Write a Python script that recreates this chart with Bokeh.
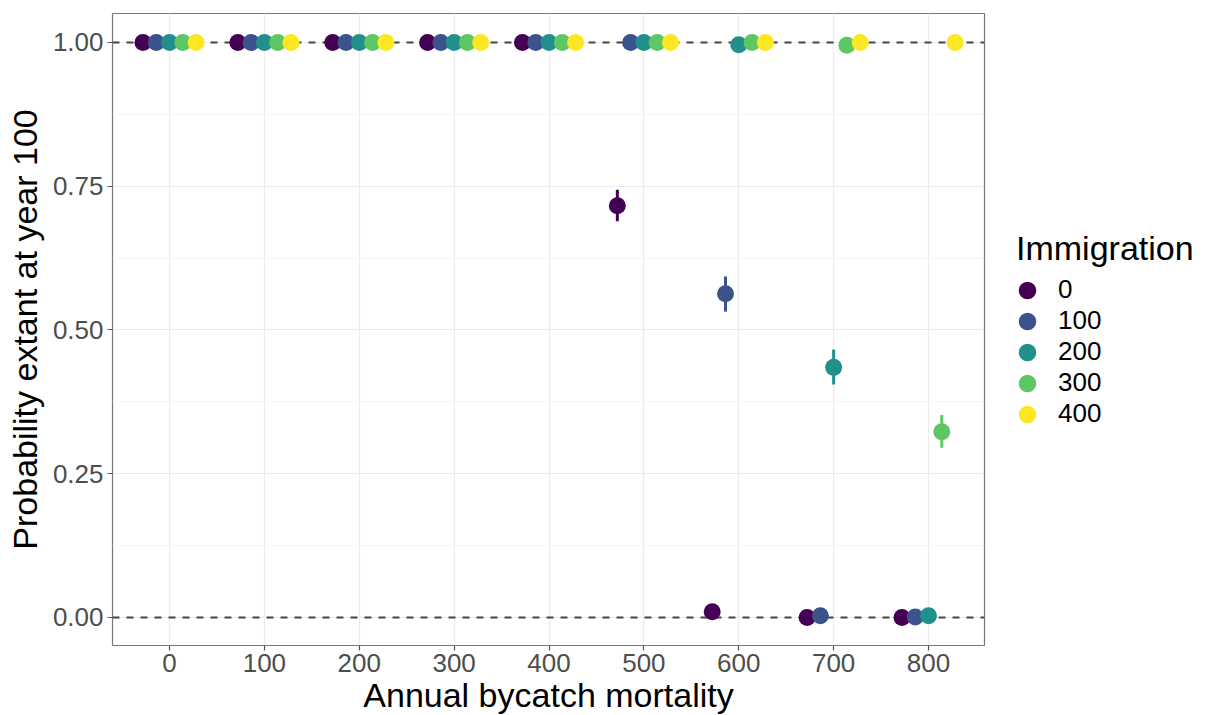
from bokeh.plotting import figure
from bokeh.models import (ColumnDataSource, Range1d, FixedTicker, NumeralTickFormatter,
                          Span, Legend, LegendItem)
from bokeh.transform import dodge
from bokeh.embed import file_html
from bokeh.resources import INLINE

# ---------------- data ----------------
mortality = [0, 100, 200, 300, 400, 500, 600, 700, 800]
immigration_levels = ["0", "100", "200", "300", "400"]

p_imm0 = [1.0, 1.0, 1.0, 1.0, 1.0, 0.716, 0.010, 0.000, 0.000]
lo_imm0 = [1.0, 1.0, 1.0, 1.0, 1.0, 0.689, 0.004, 0.000, 0.000]
hi_imm0 = [1.0, 1.0, 1.0, 1.0, 1.0, 0.744, 0.016, 0.000, 0.000]

p_imm100 = [1.0, 1.0, 1.0, 1.0, 1.0, 1.0, 0.563, 0.003, 0.001]
lo_imm100 = [1.0, 1.0, 1.0, 1.0, 1.0, 1.0, 0.532, 0.000, 0.000]
hi_imm100 = [1.0, 1.0, 1.0, 1.0, 1.0, 1.0, 0.593, 0.006, 0.003]

p_imm200 = [1.0, 1.0, 1.0, 1.0, 1.0, 1.0, 0.996, 0.435, 0.003]
lo_imm200 = [1.0, 1.0, 1.0, 1.0, 1.0, 1.0, 0.992, 0.405, 0.000]
hi_imm200 = [1.0, 1.0, 1.0, 1.0, 1.0, 1.0, 1.000, 0.466, 0.006]

p_imm300 = [1.0, 1.0, 1.0, 1.0, 1.0, 1.0, 1.0, 0.995, 0.323]
lo_imm300 = [1.0, 1.0, 1.0, 1.0, 1.0, 1.0, 1.0, 0.991, 0.295]
hi_imm300 = [1.0, 1.0, 1.0, 1.0, 1.0, 1.0, 1.0, 0.999, 0.352]

p_imm400 = [1.0, 1.0, 1.0, 1.0, 1.0, 1.0, 1.0, 1.0, 1.0]
lo_imm400 = [1.0, 1.0, 1.0, 1.0, 1.0, 1.0, 1.0, 1.0, 1.0]
hi_imm400 = [1.0, 1.0, 1.0, 1.0, 1.0, 1.0, 1.0, 1.0, 1.0]

reference_lines = [0.0, 1.0]
x_ticks = [0, 100, 200, 300, 400, 500, 600, 700, 800]
y_ticks = [0.0, 0.25, 0.5, 0.75, 1.0]
y_minor = [0.125, 0.375, 0.625, 0.875]

series_p = [p_imm0, p_imm100, p_imm200, p_imm300, p_imm400]
series_lo = [lo_imm0, lo_imm100, lo_imm200, lo_imm300, lo_imm400]
series_hi = [hi_imm0, hi_imm100, hi_imm200, hi_imm300, hi_imm400]

# ---------------- style ----------------
colors = ["#440154", "#3B528B", "#21908C", "#5DC863", "#FDE725"]
dodge_offsets = [-28, -14, 0, 14, 28]
FONT = "Liberation Sans"

p = figure(frame_width=872, frame_height=632,
           min_border_left=112, min_border_right=222, min_border_top=13, min_border_bottom=70,
           x_range=Range1d(-60.1, 859.0), y_range=Range1d(-0.0487, 1.0504),
           output_backend="svg", toolbar_location=None)

p.background_fill_color = "white"
p.border_fill_color = "white"
p.outline_line_color = "#777777"
p.outline_line_width = 1.2

# grids
p.xgrid.ticker = FixedTicker(ticks=x_ticks, minor_ticks=[])
p.ygrid.ticker = FixedTicker(ticks=y_ticks, minor_ticks=y_minor)
for g in (p.xgrid, p.ygrid):
    g.grid_line_color = "#EBEBEB"
    g.grid_line_width = 1.2
p.ygrid.minor_grid_line_color = "#F4F4F4"
p.ygrid.minor_grid_line_width = 1.0

# axes
p.xaxis.ticker = FixedTicker(ticks=x_ticks, minor_ticks=[])
p.yaxis.ticker = FixedTicker(ticks=y_ticks, minor_ticks=y_minor)
p.yaxis.formatter = NumeralTickFormatter(format="0.00")
p.xaxis.axis_label = "Annual bycatch mortality"
p.yaxis.axis_label = "Probability extant at year 100"
for ax in (p.xaxis, p.yaxis):
    ax.axis_line_color = None
    ax.major_tick_line_color = "#555555"
    ax.major_tick_line_width = 1.2
    ax.major_tick_out = 5
    ax.major_tick_in = 0
    ax.minor_tick_out = 0
    ax.minor_tick_in = 0
    ax.major_label_text_font = FONT
    ax.major_label_text_font_size = "26px"
    ax.major_label_text_color = "#4D4D4D"
    ax.axis_label_text_font = FONT
    ax.axis_label_text_font_size = "34px"
    ax.axis_label_text_font_style = "normal"
    ax.axis_label_text_color = "black"
p.xaxis.major_label_standoff = 3
p.yaxis.major_label_standoff = 4
p.xaxis.axis_label_standoff = 1
p.yaxis.axis_label_standoff = 6

# dashed reference lines
for loc in reference_lines:
    p.add_layout(Span(location=loc, dimension="width", line_color="#444444",
                      line_width=2, line_dash="7 7", level="underlay"))

# point ranges
legend_items = []
for lvl, col, off, yv, lo, hi in zip(immigration_levels, colors, dodge_offsets,
                                     series_p, series_lo, series_hi):
    src = ColumnDataSource(dict(x=mortality, y=yv, lo=lo, hi=hi))
    xd = dodge("x", off, range=p.x_range)
    p.segment(x0=xd, x1=xd, y0="lo", y1="hi", source=src,
              line_color=col, line_width=3)
    r = p.ellipse(x=xd, y="y", width=17, height=17,
                  width_units="screen", height_units="screen",
                  source=src, fill_color=col, line_color=None)
    legend_items.append(LegendItem(label=lvl, renderers=[r]))

legend = Legend(items=legend_items, location="center_left",
                title="Immigration", title_text_font=FONT, title_text_font_size="34px",
                title_text_font_style="normal", title_text_color="black", title_standoff=6,
                glyph_width=22, glyph_height=22, label_height=22, spacing=0,
                padding=0, margin=32, label_standoff=20,
                label_text_font=FONT, label_text_font_size="26px",
                label_text_color="black",
                border_line_color=None, background_fill_alpha=0)
p.add_layout(legend, "right")

open("out.html", "w").write(file_html(p, INLINE))
